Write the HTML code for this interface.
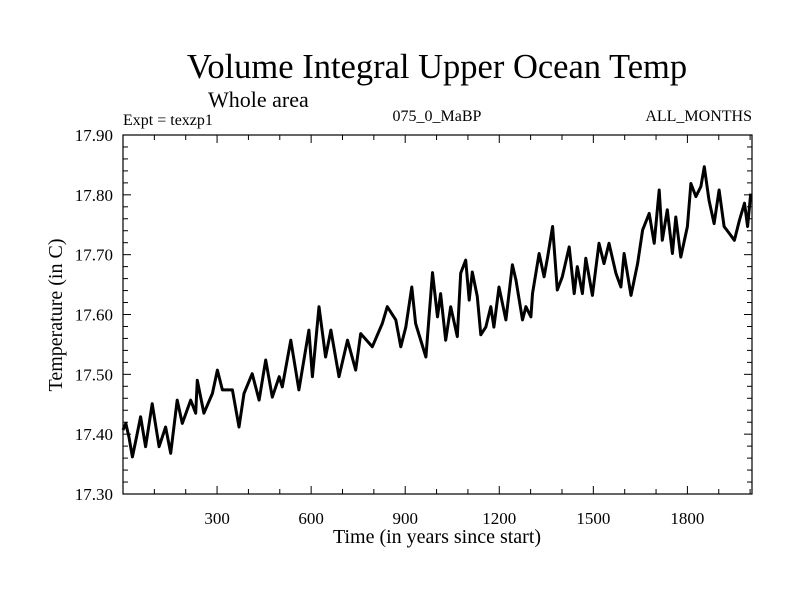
<!DOCTYPE html>
<html><head><meta charset="utf-8"><style>
body{margin:0;background:#fff}
svg text{font-family:"Liberation Serif",serif;fill:#000}
</style></head><body>
<svg id="c" width="800" height="600" viewBox="0 0 800 600">
<text x="437" y="78" text-anchor="middle" font-size="34.5">Volume Integral Upper Ocean Temp</text>
<text x="208" y="107" font-size="22">Whole area</text>
<text x="123" y="125" font-size="16">Expt = texzp1</text>
<text x="437" y="121" text-anchor="middle" font-size="16">075_0_MaBP</text>
<text x="752" y="121" text-anchor="end" font-size="16">ALL_MONTHS</text>
<text x="437" y="543" text-anchor="middle" font-size="20">Time (in years since start)</text>
<text transform="translate(62,315) rotate(-90)" text-anchor="middle" font-size="20">Temperature (in C)</text>
<g id="axes"></g>
<path id="line" fill="none" stroke="#000" stroke-width="3" stroke-linejoin="round"></path>
<rect x="123" y="135" width="629" height="359" fill="none" stroke="#000" stroke-width="1.2"></rect>
</svg>
<script>
const years=[0,9,19,30,41,56,72,93,115,136,152,173,189,216,232,237,258,285,301,317,349,370,386,412,434,455,476,498,508,535,561,593,604,625,646,663,689,716,742,758,795,827,843,870,886,902,921,933,966,987,1003,1013,1029,1045,1066,1077,1093,1104,1114,1130,1141,1157,1173,1183,1199,1221,1242,1253,1274,1285,1301,1306,1327,1343,1354,1370,1385,1401,1423,1439,1449,1465,1476,1497,1518,1534,1550,1572,1588,1598,1620,1641,1657,1678,1694,1705,1710,1720,1736,1752,1763,1779,1800,1811,1827,1843,1854,1869,1885,1901,1917,1933,1950,1966,1982,1992,2002];
const temps=[17.407,17.418,17.395,17.362,17.390,17.429,17.379,17.451,17.379,17.412,17.368,17.457,17.418,17.457,17.435,17.490,17.435,17.468,17.507,17.474,17.474,17.412,17.468,17.501,17.457,17.524,17.462,17.496,17.479,17.557,17.474,17.574,17.496,17.613,17.529,17.574,17.496,17.557,17.507,17.568,17.546,17.585,17.613,17.591,17.546,17.579,17.646,17.585,17.529,17.670,17.596,17.635,17.557,17.613,17.563,17.669,17.691,17.624,17.671,17.630,17.566,17.579,17.613,17.579,17.646,17.591,17.683,17.658,17.591,17.613,17.596,17.635,17.702,17.663,17.696,17.747,17.641,17.663,17.713,17.635,17.680,17.635,17.694,17.632,17.719,17.685,17.719,17.669,17.646,17.702,17.632,17.685,17.741,17.769,17.719,17.780,17.808,17.724,17.775,17.702,17.763,17.696,17.747,17.819,17.797,17.814,17.847,17.791,17.752,17.808,17.747,17.736,17.724,17.758,17.786,17.747,17.802];
const xTicks=[300,600,900,1200,1500,1800];
const yTicks=[17.30,17.40,17.50,17.60,17.70,17.80,17.90];
const L=123,R=752,T=135,B=494,XMIN=0,XMAX=2006,YMIN=17.30,YMAX=17.90;
const sx=v=>L+(v-XMIN)/(XMAX-XMIN)*(R-L);
const sy=v=>B-(v-YMIN)/(YMAX-YMIN)*(B-T);
const NS="http://www.w3.org/2000/svg";
const ax=document.getElementById('axes');
function ln(x1,y1,x2,y2,name){const l=document.createElementNS(NS,'line');l.setAttribute('x1',x1);l.setAttribute('y1',y1);l.setAttribute('x2',x2);l.setAttribute('y2',y2);l.setAttribute('stroke','#000');l.setAttribute('stroke-width','1');


ax.appendChild(l);}
function tx(x,y,s,anchor,name){const t=document.createElementNS(NS,'text');t.setAttribute('x',x);t.setAttribute('y',y);t.setAttribute('text-anchor',anchor);t.setAttribute('font-size','17');t.textContent=s;


ax.appendChild(t);}
for(let v=100;v<XMAX;v+=100){const x=sx(v),len=(v%300===0)?8:5;ln(x,B,x,B-len,'x-tick');ln(x,T,x,T+len,'x-tick-top');}
xTicks.forEach(v=>tx(sx(v),524,String(v),'middle','x-tick-label'));
for(let i=0;i<=30;i++){const v=YMIN+i*0.02,y=sy(v),len=(i%5===0)?8:5;ln(L,y,L+len,y,'y-tick');ln(R,y,R-len,y,'y-tick-right');}
yTicks.forEach(v=>tx(113,sy(v)+6,v.toFixed(2),'end','y-tick-label'));
let d='';years.forEach((yr,i)=>{d+=(i?'L':'M')+sx(yr).toFixed(1)+' '+sy(temps[i]).toFixed(1);});
document.getElementById('line').setAttribute('d',d);
</script>
</body></html>
